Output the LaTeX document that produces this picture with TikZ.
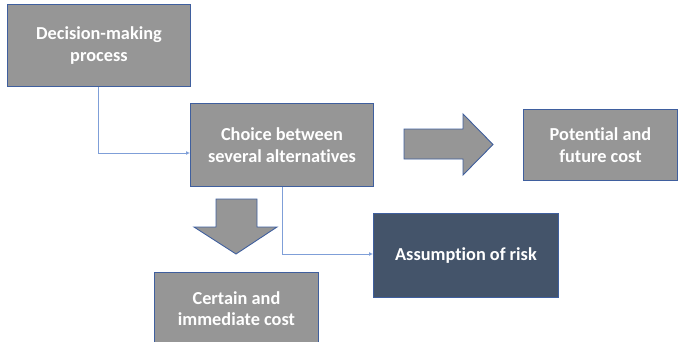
\documentclass[tikz,border=0pt]{standalone}
\usepackage{fontspec}
\setmainfont[Ligatures=NoCommon]{Carlito}
\usetikzlibrary{arrows.meta}
\definecolor{boxgray}{HTML}{969696}
\definecolor{boxedge}{HTML}{3F5F9E}
\definecolor{darkslate}{HTML}{44546A}
\definecolor{linkblue}{HTML}{7F9FD8}
\tikzset{
  box/.style={draw=boxedge, line width=0.9pt, fill=boxgray, text=white,
    font=\fontsize{18.3}{21.5}\selectfont\bfseries, align=center, inner sep=0pt},
  darkbox/.style={box, fill=darkslate},
  link/.style={draw=linkblue, line width=0.8pt, -{Latex[length=4pt,width=4pt]}},
  blockarrow/.style={draw=boxedge, line width=0.9pt, fill=boxgray, line join=miter}
}
\begin{document}
\begin{tikzpicture}[x=1pt, y=-1pt]
\useasboundingbox (0,0) rectangle (679,342);
\clip (0,0) rectangle (679,342);
% process boxes
\node[box, minimum width=183pt, minimum height=82pt, anchor=north west] (proc) at (7,4) {Decision-making\\process};
\node[box, minimum width=183pt, minimum height=83pt, anchor=north west] (choice) at (190,103) {Choice between\\several alternatives};
\node[box, minimum width=154pt, minimum height=71pt, anchor=north west] (future) at (523,109) {Potential and\\future cost};
\node[darkbox, minimum width=185pt, minimum height=84pt, anchor=north west] (risk) at (373,213) {Assumption of risk};
\node[box, minimum width=164pt, minimum height=72pt, anchor=north west] (certain) at (154,272) {Certain and\\immediate cost};
% elbow connectors
\coordinate (bend1) at (98,153);
\coordinate (bend2) at (282,254);
\draw[link] (proc.south -| bend1) -- (bend1) -- (bend1 -| choice.west);
\draw[link] (choice.south -| bend2) -- (bend2) -- (bend2 -| risk.west);
% block arrows
\filldraw[blockarrow] (404,129) -- (463,129) -- (463,114) -- (493,144.5) -- (463,175) -- (463,159) -- (404,159) -- cycle;
\filldraw[blockarrow] (216,199) -- (257,199) -- (257,227) -- (277,227) -- (236,254) -- (194,227) -- (216,227) -- cycle;
\end{tikzpicture}
\end{document}
